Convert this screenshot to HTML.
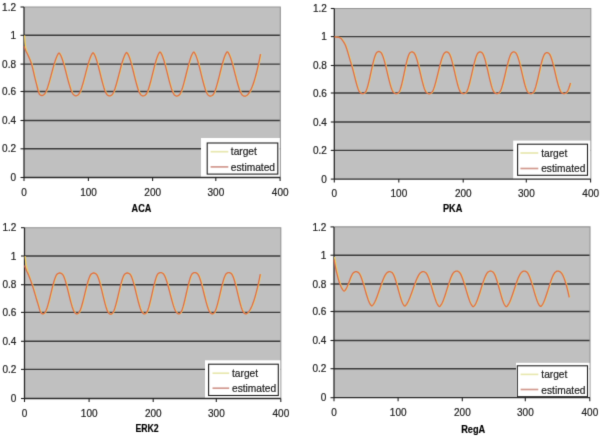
<!DOCTYPE html><html><head><meta charset="utf-8"><style>html,body{margin:0;padding:0;background:#fff;}svg{display:block;}text{font-family:"Liberation Sans",sans-serif;stroke:#222;stroke-width:0.2px;}</style></head><body>
<svg width="600" height="437" viewBox="0 0 600 437">
<defs><filter id="bl" x="0" y="0" width="600" height="437" filterUnits="userSpaceOnUse" color-interpolation-filters="sRGB"><feConvolveMatrix order="3" kernelMatrix="0.0114 0.0841 0.0114 0.0841 0.618 0.0841 0.0114 0.0841 0.0114" divisor="1" edgeMode="duplicate"/></filter></defs>
<g filter="url(#bl)">
<rect width="600" height="437" fill="#fff"/>
<g><rect x="24.0" y="7.0" width="256.30" height="170.50" fill="#C0C0C0"/><line x1="24.0" y1="148.80" x2="280.3" y2="148.80" stroke="#3a3a3a" stroke-width="1.4"/><line x1="24.0" y1="120.50" x2="280.3" y2="120.50" stroke="#3a3a3a" stroke-width="1.4"/><line x1="24.0" y1="91.50" x2="280.3" y2="91.50" stroke="#3a3a3a" stroke-width="1.4"/><line x1="24.0" y1="64.10" x2="280.3" y2="64.10" stroke="#3a3a3a" stroke-width="1.4"/><line x1="24.0" y1="35.30" x2="280.3" y2="35.30" stroke="#3a3a3a" stroke-width="1.4"/><polyline points="24.0,7.0 280.3,7.0 280.3,177.5" fill="none" stroke="#959595" stroke-width="1.1"/><rect x="201" y="138" width="78.80" height="39.50" fill="#fff"/><rect x="207.2" y="143" width="70.60" height="31.10" fill="#fff" stroke="#222" stroke-width="1.1"/><line x1="210.6" y1="151.7" x2="228.3" y2="151.7" stroke="#E8E8B0" stroke-width="1.7"/><line x1="210.6" y1="166.9" x2="228.3" y2="166.9" stroke="#D29A90" stroke-width="1.7"/><text x="230.8" y="154.7" font-size="10.2" fill="#222">target</text><text x="230.8" y="170.5" font-size="10.2" fill="#222">estimated</text><line x1="24.0" y1="7.0" x2="24.0" y2="177.5" stroke="#2a2a2a" stroke-width="1.3"/><line x1="24.0" y1="177.5" x2="280.3" y2="177.5" stroke="#2a2a2a" stroke-width="1.3"/><line x1="20.50" y1="177.50" x2="24.0" y2="177.50" stroke="#222" stroke-width="1.1"/><text x="16.0" y="181.10" font-size="10" text-anchor="end" fill="#222">0</text><line x1="20.50" y1="148.80" x2="24.0" y2="148.80" stroke="#222" stroke-width="1.1"/><text x="16.0" y="152.40" font-size="10" text-anchor="end" fill="#222">0.2</text><line x1="20.50" y1="120.50" x2="24.0" y2="120.50" stroke="#222" stroke-width="1.1"/><text x="16.0" y="124.10" font-size="10" text-anchor="end" fill="#222">0.4</text><line x1="20.50" y1="91.50" x2="24.0" y2="91.50" stroke="#222" stroke-width="1.1"/><text x="16.0" y="95.10" font-size="10" text-anchor="end" fill="#222">0.6</text><line x1="20.50" y1="64.10" x2="24.0" y2="64.10" stroke="#222" stroke-width="1.1"/><text x="16.0" y="67.70" font-size="10" text-anchor="end" fill="#222">0.8</text><line x1="20.50" y1="35.30" x2="24.0" y2="35.30" stroke="#222" stroke-width="1.1"/><text x="16.0" y="38.90" font-size="10" text-anchor="end" fill="#222">1</text><line x1="20.50" y1="7.00" x2="24.0" y2="7.00" stroke="#222" stroke-width="1.1"/><text x="16.0" y="10.60" font-size="10" text-anchor="end" fill="#222">1.2</text><line x1="24.00" y1="177.5" x2="24.00" y2="181.00" stroke="#222" stroke-width="1.1"/><text x="24.10" y="196.10" font-size="10" text-anchor="middle" fill="#222">0</text><line x1="88.40" y1="177.5" x2="88.40" y2="181.00" stroke="#222" stroke-width="1.1"/><text x="88.50" y="196.10" font-size="10" text-anchor="middle" fill="#222">100</text><line x1="152.60" y1="177.5" x2="152.60" y2="181.00" stroke="#222" stroke-width="1.1"/><text x="152.70" y="196.10" font-size="10" text-anchor="middle" fill="#222">200</text><line x1="215.80" y1="177.5" x2="215.80" y2="181.00" stroke="#222" stroke-width="1.1"/><text x="215.90" y="196.10" font-size="10" text-anchor="middle" fill="#222">300</text><line x1="280.10" y1="177.5" x2="280.10" y2="181.00" stroke="#222" stroke-width="1.1"/><text x="280.20" y="196.10" font-size="10" text-anchor="middle" fill="#222">400</text><text x="131.60" y="211.50" font-size="10.6" font-weight="bold" textLength="19.70" lengthAdjust="spacingAndGlyphs" fill="#000">ACA</text><polyline points="24.00,35.42 24.50,42.35 25.00,46.61 25.50,48.85 26.00,50.50 26.50,51.82 27.00,53.07 27.50,54.41 28.00,55.65 28.50,56.78 29.00,57.86 29.50,58.92 30.00,60.03 30.50,61.22 31.00,62.55 31.50,64.06 32.00,65.79 32.50,67.71 33.00,69.77 33.50,71.91 34.00,74.10 34.50,76.28 35.00,78.40 35.50,80.43 36.00,82.30 36.50,84.20 37.00,86.23 37.50,88.27 38.00,90.23 38.50,91.97 39.00,93.38 39.50,94.35 40.00,94.80 40.50,95.11 41.00,95.35 41.50,95.49 42.00,95.51 42.50,95.38 43.00,95.15 43.50,94.85 44.00,94.52 44.50,94.03 45.00,93.36 45.50,92.51 46.00,91.50 46.50,90.35 47.00,89.06 47.50,87.66 48.00,86.15 48.50,84.55 49.00,82.86 49.50,81.12 50.00,79.31 50.50,77.47 51.00,75.61 51.50,73.73 52.00,71.85 52.50,69.98 53.00,68.15 53.50,66.35 54.00,64.60 54.50,62.93 55.00,61.33 55.50,59.83 56.00,58.43 56.50,57.15 57.00,56.01 57.50,55.01 58.00,54.17 58.50,53.46 59.00,53.03 59.50,53.46 60.00,54.18 60.50,55.03 61.00,56.05 61.50,57.22 62.00,58.54 62.50,59.99 63.00,61.54 63.50,63.20 64.00,64.94 64.50,66.74 65.00,68.60 65.50,70.51 66.00,72.43 66.50,74.37 67.00,76.31 67.50,78.23 68.00,80.12 68.50,81.96 69.00,83.74 69.50,85.44 70.00,87.05 70.50,88.56 71.00,89.96 71.50,91.21 72.00,92.33 72.50,93.28 73.00,94.05 73.50,94.63 74.00,95.01 74.50,95.32 75.00,95.58 75.50,95.75 76.00,95.80 76.50,95.70 77.00,95.48 77.50,95.20 78.00,94.88 78.50,94.43 79.00,93.77 79.50,92.94 80.00,91.94 80.50,90.79 81.00,89.49 81.50,88.07 82.00,86.54 82.50,84.92 83.00,83.20 83.50,81.42 84.00,79.58 84.50,77.70 85.00,75.80 85.50,73.87 86.00,71.95 86.50,70.04 87.00,68.16 87.50,66.32 88.00,64.53 88.50,62.81 89.00,61.18 89.50,59.64 90.00,58.22 90.50,56.91 91.00,55.75 91.50,54.74 92.00,53.89 92.50,53.17 93.00,52.75 93.50,53.17 94.00,53.90 94.50,54.77 95.00,55.82 95.50,57.05 96.00,58.42 96.50,59.94 97.00,61.57 97.50,63.31 98.00,65.14 98.50,67.03 99.00,68.99 99.50,70.98 100.00,73.00 100.50,75.03 101.00,77.04 101.50,79.03 102.00,80.98 102.50,82.88 103.00,84.70 103.50,86.43 104.00,88.05 104.50,89.55 105.00,90.91 105.50,92.12 106.00,93.16 106.50,94.01 107.00,94.66 107.50,95.09 108.00,95.40 108.50,95.68 109.00,95.87 109.50,95.94 110.00,95.87 110.50,95.67 111.00,95.40 111.50,95.09 112.00,94.67 112.50,94.05 113.00,93.25 113.50,92.27 114.00,91.14 114.50,89.86 115.00,88.45 115.50,86.92 116.00,85.29 116.50,83.58 117.00,81.79 117.50,79.94 118.00,78.04 118.50,76.12 119.00,74.18 119.50,72.23 120.00,70.29 120.50,68.38 121.00,66.51 121.50,64.70 122.00,62.95 122.50,61.28 123.00,59.70 123.50,58.24 124.00,56.90 124.50,55.70 125.00,54.65 125.50,53.76 126.00,53.03 126.50,52.49 127.00,52.75 127.50,53.46 128.00,54.29 128.50,55.31 129.00,56.50 129.50,57.84 130.00,59.32 130.50,60.93 131.00,62.64 131.50,64.45 132.00,66.33 132.50,68.27 133.00,70.25 133.50,72.26 134.00,74.29 134.50,76.31 135.00,78.31 135.50,80.27 136.00,82.18 136.50,84.03 137.00,85.79 137.50,87.45 138.00,88.99 138.50,90.41 139.00,91.67 139.50,92.78 140.00,93.70 140.50,94.43 141.00,94.95 141.50,95.28 142.00,95.57 142.50,95.80 143.00,95.93 143.50,95.92 144.00,95.76 144.50,95.52 145.00,95.22 145.50,94.86 146.00,94.31 146.50,93.55 147.00,92.60 147.50,91.47 148.00,90.19 148.50,88.77 149.00,87.22 149.50,85.56 150.00,83.80 150.50,81.96 151.00,80.05 151.50,78.10 152.00,76.11 152.50,74.10 153.00,72.08 153.50,70.08 154.00,68.10 154.50,66.17 155.00,64.29 155.50,62.49 156.00,60.77 156.50,59.16 157.00,57.66 157.50,56.30 158.00,55.09 158.50,54.05 159.00,53.18 159.50,52.46 160.00,52.04 160.50,52.46 161.00,53.18 161.50,54.05 162.00,55.10 162.50,56.31 163.00,57.67 163.50,59.17 164.00,60.79 164.50,62.51 165.00,64.32 165.50,66.21 166.00,68.15 166.50,70.13 167.00,72.14 167.50,74.16 168.00,76.18 168.50,78.18 169.00,80.14 169.50,82.06 170.00,83.90 170.50,85.67 171.00,87.34 171.50,88.89 172.00,90.32 172.50,91.61 173.00,92.73 173.50,93.68 174.00,94.45 174.50,95.00 175.00,95.36 175.50,95.66 176.00,95.91 176.50,96.06 177.00,96.07 177.50,95.95 178.00,95.71 178.50,95.42 179.00,95.09 179.50,94.58 180.00,93.86 180.50,92.96 181.00,91.88 181.50,90.64 182.00,89.25 182.50,87.74 183.00,86.11 183.50,84.38 184.00,82.57 184.50,80.69 185.00,78.76 185.50,76.78 186.00,74.78 186.50,72.78 187.00,70.78 187.50,68.80 188.00,66.86 188.50,64.96 189.00,63.14 189.50,61.40 190.00,59.75 190.50,58.22 191.00,56.81 191.50,55.55 192.00,54.44 192.50,53.51 193.00,52.75 193.50,52.12 194.00,52.21 194.50,52.89 195.00,53.68 195.50,54.67 196.00,55.82 196.50,57.14 197.00,58.60 197.50,60.19 198.00,61.89 198.50,63.68 199.00,65.56 199.50,67.49 200.00,69.48 200.50,71.50 201.00,73.54 201.50,75.57 202.00,77.59 202.50,79.59 203.00,81.53 203.50,83.41 204.00,85.21 204.50,86.92 205.00,88.52 205.50,89.99 206.00,91.32 206.50,92.50 207.00,93.49 207.50,94.30 208.00,94.91 208.50,95.30 209.00,95.60 209.50,95.86 210.00,96.04 210.50,96.08 211.00,95.98 211.50,95.77 212.00,95.48 212.50,95.17 213.00,94.70 213.50,94.02 214.00,93.14 214.50,92.09 215.00,90.87 215.50,89.51 216.00,88.01 216.50,86.39 217.00,84.67 217.50,82.86 218.00,80.97 218.50,79.03 219.00,77.05 219.50,75.04 220.00,73.02 220.50,71.00 221.00,69.01 221.50,67.04 222.00,65.12 222.50,63.27 223.00,61.50 223.50,59.83 224.00,58.26 224.50,56.82 225.00,55.52 225.50,54.37 226.00,53.40 226.50,52.61 227.00,51.93 227.50,51.84 228.00,52.47 228.50,53.22 229.00,54.13 229.50,55.21 230.00,56.43 230.50,57.79 231.00,59.27 231.50,60.85 232.00,62.53 232.50,64.29 233.00,66.11 233.50,67.99 234.00,69.90 234.50,71.84 235.00,73.79 235.50,75.74 236.00,77.68 236.50,79.58 237.00,81.44 237.50,83.25 238.00,84.99 238.50,86.64 239.00,88.20 239.50,89.64 240.00,90.96 240.50,92.15 241.00,93.18 241.50,94.05 242.00,94.74 242.50,95.23 243.00,95.56 243.50,95.86 244.00,96.09 244.50,96.22 245.00,96.20 245.50,96.05 246.00,95.80 246.50,95.50 247.00,95.17 247.50,94.76 248.00,94.26 248.50,93.67 249.00,92.99 249.50,92.22 250.00,91.37 250.50,90.43 251.00,89.40 251.50,88.29 252.00,87.09 252.50,85.81 253.00,84.45 253.50,83.00 254.00,81.46 254.50,79.85 255.00,78.15 255.50,76.37 256.00,74.51 256.50,72.57 257.00,70.54 257.50,68.44 258.00,66.26 258.50,64.00 259.00,61.66 259.50,59.24 260.00,56.74 260.50,54.17" fill="none" stroke="#F4D060" stroke-width="1.3" stroke-linejoin="round" transform="translate(0.6,0)"/><polyline points="24.00,46.07 24.50,47.68 25.00,49.12 25.50,50.31 26.00,51.31 26.50,52.23 27.00,53.19 27.50,54.25 28.00,55.31 28.50,56.39 29.00,57.50 29.50,58.65 30.00,59.87 30.50,61.16 31.00,62.54 31.50,64.06 32.00,65.79 32.50,67.71 33.00,69.77 33.50,71.91 34.00,74.10 34.50,76.28 35.00,78.40 35.50,80.43 36.00,82.30 36.50,84.20 37.00,86.23 37.50,88.27 38.00,90.23 38.50,91.97 39.00,93.38 39.50,94.35 40.00,94.80 40.50,95.11 41.00,95.35 41.50,95.49 42.00,95.51 42.50,95.38 43.00,95.15 43.50,94.85 44.00,94.52 44.50,94.03 45.00,93.36 45.50,92.51 46.00,91.50 46.50,90.35 47.00,89.06 47.50,87.66 48.00,86.15 48.50,84.55 49.00,82.86 49.50,81.12 50.00,79.31 50.50,77.47 51.00,75.61 51.50,73.73 52.00,71.85 52.50,69.98 53.00,68.15 53.50,66.35 54.00,64.60 54.50,62.93 55.00,61.33 55.50,59.83 56.00,58.43 56.50,57.15 57.00,56.01 57.50,55.01 58.00,54.17 58.50,53.46 59.00,53.03 59.50,53.46 60.00,54.18 60.50,55.03 61.00,56.05 61.50,57.22 62.00,58.54 62.50,59.99 63.00,61.54 63.50,63.20 64.00,64.94 64.50,66.74 65.00,68.60 65.50,70.51 66.00,72.43 66.50,74.37 67.00,76.31 67.50,78.23 68.00,80.12 68.50,81.96 69.00,83.74 69.50,85.44 70.00,87.05 70.50,88.56 71.00,89.96 71.50,91.21 72.00,92.33 72.50,93.28 73.00,94.05 73.50,94.63 74.00,95.01 74.50,95.32 75.00,95.58 75.50,95.75 76.00,95.80 76.50,95.70 77.00,95.48 77.50,95.20 78.00,94.88 78.50,94.43 79.00,93.77 79.50,92.94 80.00,91.94 80.50,90.79 81.00,89.49 81.50,88.07 82.00,86.54 82.50,84.92 83.00,83.20 83.50,81.42 84.00,79.58 84.50,77.70 85.00,75.80 85.50,73.87 86.00,71.95 86.50,70.04 87.00,68.16 87.50,66.32 88.00,64.53 88.50,62.81 89.00,61.18 89.50,59.64 90.00,58.22 90.50,56.91 91.00,55.75 91.50,54.74 92.00,53.89 92.50,53.17 93.00,52.75 93.50,53.17 94.00,53.90 94.50,54.77 95.00,55.82 95.50,57.05 96.00,58.42 96.50,59.94 97.00,61.57 97.50,63.31 98.00,65.14 98.50,67.03 99.00,68.99 99.50,70.98 100.00,73.00 100.50,75.03 101.00,77.04 101.50,79.03 102.00,80.98 102.50,82.88 103.00,84.70 103.50,86.43 104.00,88.05 104.50,89.55 105.00,90.91 105.50,92.12 106.00,93.16 106.50,94.01 107.00,94.66 107.50,95.09 108.00,95.40 108.50,95.68 109.00,95.87 109.50,95.94 110.00,95.87 110.50,95.67 111.00,95.40 111.50,95.09 112.00,94.67 112.50,94.05 113.00,93.25 113.50,92.27 114.00,91.14 114.50,89.86 115.00,88.45 115.50,86.92 116.00,85.29 116.50,83.58 117.00,81.79 117.50,79.94 118.00,78.04 118.50,76.12 119.00,74.18 119.50,72.23 120.00,70.29 120.50,68.38 121.00,66.51 121.50,64.70 122.00,62.95 122.50,61.28 123.00,59.70 123.50,58.24 124.00,56.90 124.50,55.70 125.00,54.65 125.50,53.76 126.00,53.03 126.50,52.49 127.00,52.75 127.50,53.46 128.00,54.29 128.50,55.31 129.00,56.50 129.50,57.84 130.00,59.32 130.50,60.93 131.00,62.64 131.50,64.45 132.00,66.33 132.50,68.27 133.00,70.25 133.50,72.26 134.00,74.29 134.50,76.31 135.00,78.31 135.50,80.27 136.00,82.18 136.50,84.03 137.00,85.79 137.50,87.45 138.00,88.99 138.50,90.41 139.00,91.67 139.50,92.78 140.00,93.70 140.50,94.43 141.00,94.95 141.50,95.28 142.00,95.57 142.50,95.80 143.00,95.93 143.50,95.92 144.00,95.76 144.50,95.52 145.00,95.22 145.50,94.86 146.00,94.31 146.50,93.55 147.00,92.60 147.50,91.47 148.00,90.19 148.50,88.77 149.00,87.22 149.50,85.56 150.00,83.80 150.50,81.96 151.00,80.05 151.50,78.10 152.00,76.11 152.50,74.10 153.00,72.08 153.50,70.08 154.00,68.10 154.50,66.17 155.00,64.29 155.50,62.49 156.00,60.77 156.50,59.16 157.00,57.66 157.50,56.30 158.00,55.09 158.50,54.05 159.00,53.18 159.50,52.46 160.00,52.04 160.50,52.46 161.00,53.18 161.50,54.05 162.00,55.10 162.50,56.31 163.00,57.67 163.50,59.17 164.00,60.79 164.50,62.51 165.00,64.32 165.50,66.21 166.00,68.15 166.50,70.13 167.00,72.14 167.50,74.16 168.00,76.18 168.50,78.18 169.00,80.14 169.50,82.06 170.00,83.90 170.50,85.67 171.00,87.34 171.50,88.89 172.00,90.32 172.50,91.61 173.00,92.73 173.50,93.68 174.00,94.45 174.50,95.00 175.00,95.36 175.50,95.66 176.00,95.91 176.50,96.06 177.00,96.07 177.50,95.95 178.00,95.71 178.50,95.42 179.00,95.09 179.50,94.58 180.00,93.86 180.50,92.96 181.00,91.88 181.50,90.64 182.00,89.25 182.50,87.74 183.00,86.11 183.50,84.38 184.00,82.57 184.50,80.69 185.00,78.76 185.50,76.78 186.00,74.78 186.50,72.78 187.00,70.78 187.50,68.80 188.00,66.86 188.50,64.96 189.00,63.14 189.50,61.40 190.00,59.75 190.50,58.22 191.00,56.81 191.50,55.55 192.00,54.44 192.50,53.51 193.00,52.75 193.50,52.12 194.00,52.21 194.50,52.89 195.00,53.68 195.50,54.67 196.00,55.82 196.50,57.14 197.00,58.60 197.50,60.19 198.00,61.89 198.50,63.68 199.00,65.56 199.50,67.49 200.00,69.48 200.50,71.50 201.00,73.54 201.50,75.57 202.00,77.59 202.50,79.59 203.00,81.53 203.50,83.41 204.00,85.21 204.50,86.92 205.00,88.52 205.50,89.99 206.00,91.32 206.50,92.50 207.00,93.49 207.50,94.30 208.00,94.91 208.50,95.30 209.00,95.60 209.50,95.86 210.00,96.04 210.50,96.08 211.00,95.98 211.50,95.77 212.00,95.48 212.50,95.17 213.00,94.70 213.50,94.02 214.00,93.14 214.50,92.09 215.00,90.87 215.50,89.51 216.00,88.01 216.50,86.39 217.00,84.67 217.50,82.86 218.00,80.97 218.50,79.03 219.00,77.05 219.50,75.04 220.00,73.02 220.50,71.00 221.00,69.01 221.50,67.04 222.00,65.12 222.50,63.27 223.00,61.50 223.50,59.83 224.00,58.26 224.50,56.82 225.00,55.52 225.50,54.37 226.00,53.40 226.50,52.61 227.00,51.93 227.50,51.84 228.00,52.47 228.50,53.22 229.00,54.13 229.50,55.21 230.00,56.43 230.50,57.79 231.00,59.27 231.50,60.85 232.00,62.53 232.50,64.29 233.00,66.11 233.50,67.99 234.00,69.90 234.50,71.84 235.00,73.79 235.50,75.74 236.00,77.68 236.50,79.58 237.00,81.44 237.50,83.25 238.00,84.99 238.50,86.64 239.00,88.20 239.50,89.64 240.00,90.96 240.50,92.15 241.00,93.18 241.50,94.05 242.00,94.74 242.50,95.23 243.00,95.56 243.50,95.86 244.00,96.09 244.50,96.22 245.00,96.20 245.50,96.05 246.00,95.80 246.50,95.50 247.00,95.17 247.50,94.76 248.00,94.26 248.50,93.67 249.00,92.99 249.50,92.22 250.00,91.37 250.50,90.43 251.00,89.40 251.50,88.29 252.00,87.09 252.50,85.81 253.00,84.45 253.50,83.00 254.00,81.46 254.50,79.85 255.00,78.15 255.50,76.37 256.00,74.51 256.50,72.57 257.00,70.54 257.50,68.44 258.00,66.26 258.50,64.00 259.00,61.66 259.50,59.24 260.00,56.74 260.50,54.17" fill="none" stroke="#D8664A" stroke-width="1.3" stroke-linejoin="round" opacity="0.9"/></g>
<g><rect x="334.3" y="8.5" width="256.50" height="170.60" fill="#C0C0C0"/><line x1="334.3" y1="150.40" x2="590.8" y2="150.40" stroke="#3a3a3a" stroke-width="1.4"/><line x1="334.3" y1="122.00" x2="590.8" y2="122.00" stroke="#3a3a3a" stroke-width="1.4"/><line x1="334.3" y1="93.00" x2="590.8" y2="93.00" stroke="#3a3a3a" stroke-width="1.4"/><line x1="334.3" y1="65.50" x2="590.8" y2="65.50" stroke="#3a3a3a" stroke-width="1.4"/><line x1="334.3" y1="36.60" x2="590.8" y2="36.60" stroke="#3a3a3a" stroke-width="1.4"/><polyline points="334.3,8.5 590.8,8.5 590.8,179.1" fill="none" stroke="#959595" stroke-width="1.1"/><rect x="513.2" y="140.6" width="77.10" height="38.50" fill="#fff"/><rect x="517.6" y="144.2" width="69.90" height="31.10" fill="#fff" stroke="#222" stroke-width="1.1"/><line x1="520.4" y1="153.0" x2="538.3" y2="153.0" stroke="#E8E8B0" stroke-width="1.7"/><line x1="520.4" y1="168.5" x2="538.3" y2="168.5" stroke="#D29A90" stroke-width="1.7"/><text x="541.2" y="156.9" font-size="10.2" fill="#222">target</text><text x="541.2" y="172.4" font-size="10.2" fill="#222">estimated</text><line x1="334.3" y1="8.5" x2="334.3" y2="179.1" stroke="#2a2a2a" stroke-width="1.3"/><line x1="334.3" y1="179.1" x2="590.8" y2="179.1" stroke="#2a2a2a" stroke-width="1.3"/><line x1="330.80" y1="179.10" x2="334.3" y2="179.10" stroke="#222" stroke-width="1.1"/><text x="326.8" y="182.70" font-size="10" text-anchor="end" fill="#222">0</text><line x1="330.80" y1="150.40" x2="334.3" y2="150.40" stroke="#222" stroke-width="1.1"/><text x="326.8" y="154.00" font-size="10" text-anchor="end" fill="#222">0.2</text><line x1="330.80" y1="122.00" x2="334.3" y2="122.00" stroke="#222" stroke-width="1.1"/><text x="326.8" y="125.60" font-size="10" text-anchor="end" fill="#222">0.4</text><line x1="330.80" y1="93.00" x2="334.3" y2="93.00" stroke="#222" stroke-width="1.1"/><text x="326.8" y="96.60" font-size="10" text-anchor="end" fill="#222">0.6</text><line x1="330.80" y1="65.50" x2="334.3" y2="65.50" stroke="#222" stroke-width="1.1"/><text x="326.8" y="69.10" font-size="10" text-anchor="end" fill="#222">0.8</text><line x1="330.80" y1="36.60" x2="334.3" y2="36.60" stroke="#222" stroke-width="1.1"/><text x="326.8" y="40.20" font-size="10" text-anchor="end" fill="#222">1</text><line x1="330.80" y1="8.50" x2="334.3" y2="8.50" stroke="#222" stroke-width="1.1"/><text x="326.8" y="12.10" font-size="10" text-anchor="end" fill="#222">1.2</text><line x1="334.30" y1="179.1" x2="334.30" y2="182.60" stroke="#222" stroke-width="1.1"/><text x="334.40" y="197.20" font-size="10" text-anchor="middle" fill="#222">0</text><line x1="398.80" y1="179.1" x2="398.80" y2="182.60" stroke="#222" stroke-width="1.1"/><text x="398.90" y="197.20" font-size="10" text-anchor="middle" fill="#222">100</text><line x1="463.20" y1="179.1" x2="463.20" y2="182.60" stroke="#222" stroke-width="1.1"/><text x="463.30" y="197.20" font-size="10" text-anchor="middle" fill="#222">200</text><line x1="526.30" y1="179.1" x2="526.30" y2="182.60" stroke="#222" stroke-width="1.1"/><text x="526.40" y="197.20" font-size="10" text-anchor="middle" fill="#222">300</text><line x1="590.60" y1="179.1" x2="590.60" y2="182.60" stroke="#222" stroke-width="1.1"/><text x="590.70" y="197.20" font-size="10" text-anchor="middle" fill="#222">400</text><text x="442.90" y="212.00" font-size="10.6" font-weight="bold" textLength="19.40" lengthAdjust="spacingAndGlyphs" fill="#000">PKA</text><polyline points="334.30,36.93 334.80,36.94 335.30,36.96 335.80,37.00 336.30,37.05 336.80,37.11 337.30,37.18 337.80,37.26 338.30,37.36 338.80,37.46 339.30,37.57 339.80,37.70 340.30,37.95 340.80,38.32 341.30,38.81 341.80,39.38 342.30,40.04 342.80,40.76 343.30,41.53 343.80,42.34 344.30,43.16 344.80,44.05 345.30,45.12 345.80,46.33 346.30,47.69 346.80,49.16 347.30,50.73 347.80,52.37 348.30,54.08 348.80,55.82 349.30,57.58 349.80,59.34 350.30,61.08 350.80,62.78 351.30,64.42 351.80,66.00 352.30,67.68 352.80,69.47 353.30,71.36 353.80,73.31 354.30,75.30 354.80,77.30 355.30,79.29 355.80,81.24 356.30,83.13 356.80,84.92 357.30,86.60 357.80,88.14 358.30,89.51 358.80,90.69 359.30,91.65 359.80,92.36 360.30,92.80 360.80,93.10 361.30,93.35 361.80,93.54 362.30,93.65 362.80,93.64 363.30,93.51 363.80,93.30 364.30,93.04 364.80,92.74 365.30,92.23 365.80,91.42 366.30,90.34 366.80,89.03 367.30,87.49 367.80,85.77 368.30,83.89 368.80,81.87 369.30,79.74 369.80,77.52 370.30,75.25 370.80,72.95 371.30,70.64 371.80,68.36 372.30,66.12 372.80,63.95 373.30,61.89 373.80,59.95 374.30,58.17 374.80,56.56 375.30,55.16 375.80,53.99 376.30,53.08 376.80,52.45 377.30,52.08 377.80,51.76 378.30,51.53 378.80,51.43 379.30,51.53 379.80,51.76 380.30,52.08 380.80,52.45 381.30,53.03 381.80,53.85 382.30,54.89 382.80,56.13 383.30,57.55 383.80,59.13 384.30,60.85 384.80,62.69 385.30,64.63 385.80,66.64 386.30,68.71 386.80,70.82 387.30,72.94 387.80,75.06 388.30,77.16 388.80,79.21 389.30,81.19 389.80,83.09 390.30,84.89 390.80,86.55 391.30,88.07 391.80,89.42 392.30,90.59 392.80,91.54 393.30,92.27 393.80,92.74 394.30,93.03 394.80,93.30 395.30,93.51 395.80,93.64 396.30,93.65 396.80,93.54 397.30,93.35 397.80,93.09 398.30,92.80 398.80,92.34 399.30,91.55 399.80,90.47 400.30,89.13 400.80,87.55 401.30,85.76 401.80,83.81 402.30,81.71 402.80,79.49 403.30,77.19 403.80,74.83 404.30,72.45 404.80,70.07 405.30,67.72 405.80,65.44 406.30,63.25 406.80,61.18 407.30,59.26 407.80,57.52 408.30,56.00 408.80,54.71 409.30,53.70 409.80,52.99 410.30,52.57 410.80,52.24 411.30,51.99 411.80,51.86 412.30,51.92 412.80,52.13 413.30,52.44 413.80,52.79 414.30,53.32 414.80,54.11 415.30,55.12 415.80,56.35 416.30,57.76 416.80,59.33 417.30,61.05 417.80,62.90 418.30,64.84 418.80,66.87 419.30,68.96 419.80,71.08 420.30,73.23 420.80,75.37 421.30,77.48 421.80,79.54 422.30,81.54 422.80,83.45 423.30,85.25 423.80,86.91 424.30,88.43 424.80,89.76 425.30,90.91 425.80,91.83 426.30,92.52 426.80,92.95 427.30,93.23 427.80,93.49 428.30,93.68 428.80,93.79 429.30,93.78 429.80,93.65 430.30,93.44 430.80,93.18 431.30,92.88 431.80,92.42 432.30,91.72 432.80,90.80 433.30,89.69 433.80,88.39 434.30,86.94 434.80,85.34 435.30,83.62 435.80,81.80 436.30,79.89 436.80,77.91 437.30,75.89 437.80,73.84 438.30,71.78 438.80,69.73 439.30,67.71 439.80,65.74 440.30,63.83 440.80,62.00 441.30,60.28 441.80,58.68 442.30,57.22 442.80,55.93 443.30,54.81 443.80,53.89 444.30,53.18 444.80,52.71 445.30,52.37 445.80,52.08 446.30,51.90 446.80,51.88 447.30,52.03 447.80,52.31 448.30,52.64 448.80,53.08 449.30,53.79 449.80,54.74 450.30,55.92 450.80,57.30 451.30,58.86 451.80,60.58 452.30,62.44 452.80,64.41 453.30,66.46 453.80,68.59 454.30,70.75 454.80,72.94 455.30,75.12 455.80,77.28 456.30,79.39 456.80,81.43 457.30,83.38 457.80,85.21 458.30,86.91 458.80,88.44 459.30,89.78 459.80,90.92 460.30,91.83 460.80,92.48 461.30,92.86 461.80,93.15 462.30,93.39 462.80,93.57 463.30,93.66 463.80,93.62 464.30,93.47 464.80,93.25 465.30,92.98 465.80,92.66 466.30,92.11 466.80,91.30 467.30,90.23 467.80,88.95 468.30,87.48 468.80,85.83 469.30,84.03 469.80,82.10 470.30,80.07 470.80,77.96 471.30,75.80 471.80,73.60 472.30,71.39 472.80,69.20 473.30,67.04 473.80,64.95 474.30,62.94 474.80,61.04 475.30,59.27 475.80,57.65 476.30,56.22 476.80,54.98 477.30,53.97 477.80,53.21 478.30,52.71 478.80,52.37 479.30,52.08 479.80,51.90 480.30,51.88 480.80,52.03 481.30,52.31 481.80,52.64 482.30,53.08 482.80,53.79 483.30,54.76 483.80,55.95 484.30,57.35 484.80,58.93 485.30,60.67 485.80,62.55 486.30,64.54 486.80,66.62 487.30,68.76 487.80,70.95 488.30,73.16 488.80,75.36 489.30,77.53 489.80,79.65 490.30,81.70 490.80,83.65 491.30,85.48 491.80,87.16 492.30,88.67 492.80,90.00 493.30,91.10 493.80,91.97 494.30,92.58 494.80,92.92 495.30,93.20 495.80,93.43 496.30,93.60 496.80,93.66 497.30,93.60 497.80,93.43 498.30,93.20 498.80,92.92 499.30,92.58 499.80,91.98 500.30,91.13 500.80,90.05 501.30,88.77 501.80,87.29 502.30,85.65 502.80,83.86 503.30,81.96 503.80,79.96 504.30,77.88 504.80,75.75 505.30,73.59 505.80,71.42 506.30,69.26 506.80,67.14 507.30,65.08 507.80,63.10 508.30,61.21 508.80,59.46 509.30,57.85 509.80,56.41 510.30,55.16 510.80,54.13 511.30,53.33 511.80,52.79 512.30,52.44 512.80,52.13 513.30,51.92 513.80,51.86 514.30,51.99 514.80,52.25 515.30,52.57 515.80,52.97 516.30,53.62 516.80,54.51 517.30,55.64 517.80,56.96 518.30,58.47 518.80,60.14 519.30,61.95 519.80,63.88 520.30,65.90 520.80,67.98 521.30,70.12 521.80,72.29 522.30,74.46 522.80,76.61 523.30,78.72 523.80,80.77 524.30,82.74 524.80,84.59 525.30,86.32 525.80,87.90 526.30,89.30 526.80,90.51 527.30,91.50 527.80,92.25 528.30,92.74 528.80,93.04 529.30,93.30 529.80,93.51 530.30,93.64 530.80,93.65 531.30,93.54 531.80,93.35 532.30,93.09 532.80,92.80 533.30,92.36 533.80,91.64 534.30,90.65 534.80,89.43 535.30,88.00 535.80,86.38 536.30,84.60 536.80,82.69 537.30,80.67 537.80,78.56 538.30,76.39 538.80,74.18 539.30,71.96 539.80,69.75 540.30,67.58 540.80,65.47 541.30,63.45 541.80,61.53 542.30,59.76 542.80,58.15 543.30,56.72 543.80,55.50 544.30,54.52 544.80,53.80 545.30,53.35 545.80,53.02 546.30,52.74 546.80,52.59 547.30,52.61 547.80,52.79 548.30,53.08 548.80,53.42 549.30,53.91 549.80,54.65 550.30,55.62 550.80,56.81 551.30,58.19 551.80,59.74 552.30,61.43 552.80,63.26 553.30,65.19 553.80,67.20 554.30,69.27 554.80,71.38 555.30,73.51 555.80,75.63 556.30,77.73 556.80,79.78 557.30,81.76 557.80,83.65 558.30,85.42 558.80,87.07 559.30,88.55 559.80,89.86 560.30,90.96 560.80,91.84 561.30,92.48 561.80,92.86 562.30,93.15 562.80,93.39 563.30,93.57 563.80,93.66 564.30,93.62 564.80,93.48 565.30,93.26 565.80,92.99 566.30,92.66 566.80,92.16 567.30,91.45 567.80,90.54 568.30,89.46 568.80,88.22 569.30,86.83 569.80,85.32 570.30,83.68 570.50,83.00" fill="none" stroke="#F4D060" stroke-width="1.3" stroke-linejoin="round" transform="translate(0.6,0)"/><polyline points="334.30,36.93 334.80,36.94 335.30,36.96 335.80,37.00 336.30,37.05 336.80,37.11 337.30,37.18 337.80,37.26 338.30,37.36 338.80,37.46 339.30,37.57 339.80,37.70 340.30,37.95 340.80,38.32 341.30,38.81 341.80,39.38 342.30,40.04 342.80,40.76 343.30,41.53 343.80,42.34 344.30,43.16 344.80,44.05 345.30,45.12 345.80,46.33 346.30,47.69 346.80,49.16 347.30,50.73 347.80,52.37 348.30,54.08 348.80,55.82 349.30,57.58 349.80,59.34 350.30,61.08 350.80,62.78 351.30,64.42 351.80,66.00 352.30,67.68 352.80,69.47 353.30,71.36 353.80,73.31 354.30,75.30 354.80,77.30 355.30,79.29 355.80,81.24 356.30,83.13 356.80,84.92 357.30,86.60 357.80,88.14 358.30,89.51 358.80,90.69 359.30,91.65 359.80,92.36 360.30,92.80 360.80,93.10 361.30,93.35 361.80,93.54 362.30,93.65 362.80,93.64 363.30,93.51 363.80,93.30 364.30,93.04 364.80,92.74 365.30,92.23 365.80,91.42 366.30,90.34 366.80,89.03 367.30,87.49 367.80,85.77 368.30,83.89 368.80,81.87 369.30,79.74 369.80,77.52 370.30,75.25 370.80,72.95 371.30,70.64 371.80,68.36 372.30,66.12 372.80,63.95 373.30,61.89 373.80,59.95 374.30,58.17 374.80,56.56 375.30,55.16 375.80,53.99 376.30,53.08 376.80,52.45 377.30,52.08 377.80,51.76 378.30,51.53 378.80,51.43 379.30,51.53 379.80,51.76 380.30,52.08 380.80,52.45 381.30,53.03 381.80,53.85 382.30,54.89 382.80,56.13 383.30,57.55 383.80,59.13 384.30,60.85 384.80,62.69 385.30,64.63 385.80,66.64 386.30,68.71 386.80,70.82 387.30,72.94 387.80,75.06 388.30,77.16 388.80,79.21 389.30,81.19 389.80,83.09 390.30,84.89 390.80,86.55 391.30,88.07 391.80,89.42 392.30,90.59 392.80,91.54 393.30,92.27 393.80,92.74 394.30,93.03 394.80,93.30 395.30,93.51 395.80,93.64 396.30,93.65 396.80,93.54 397.30,93.35 397.80,93.09 398.30,92.80 398.80,92.34 399.30,91.55 399.80,90.47 400.30,89.13 400.80,87.55 401.30,85.76 401.80,83.81 402.30,81.71 402.80,79.49 403.30,77.19 403.80,74.83 404.30,72.45 404.80,70.07 405.30,67.72 405.80,65.44 406.30,63.25 406.80,61.18 407.30,59.26 407.80,57.52 408.30,56.00 408.80,54.71 409.30,53.70 409.80,52.99 410.30,52.57 410.80,52.24 411.30,51.99 411.80,51.86 412.30,51.92 412.80,52.13 413.30,52.44 413.80,52.79 414.30,53.32 414.80,54.11 415.30,55.12 415.80,56.35 416.30,57.76 416.80,59.33 417.30,61.05 417.80,62.90 418.30,64.84 418.80,66.87 419.30,68.96 419.80,71.08 420.30,73.23 420.80,75.37 421.30,77.48 421.80,79.54 422.30,81.54 422.80,83.45 423.30,85.25 423.80,86.91 424.30,88.43 424.80,89.76 425.30,90.91 425.80,91.83 426.30,92.52 426.80,92.95 427.30,93.23 427.80,93.49 428.30,93.68 428.80,93.79 429.30,93.78 429.80,93.65 430.30,93.44 430.80,93.18 431.30,92.88 431.80,92.42 432.30,91.72 432.80,90.80 433.30,89.69 433.80,88.39 434.30,86.94 434.80,85.34 435.30,83.62 435.80,81.80 436.30,79.89 436.80,77.91 437.30,75.89 437.80,73.84 438.30,71.78 438.80,69.73 439.30,67.71 439.80,65.74 440.30,63.83 440.80,62.00 441.30,60.28 441.80,58.68 442.30,57.22 442.80,55.93 443.30,54.81 443.80,53.89 444.30,53.18 444.80,52.71 445.30,52.37 445.80,52.08 446.30,51.90 446.80,51.88 447.30,52.03 447.80,52.31 448.30,52.64 448.80,53.08 449.30,53.79 449.80,54.74 450.30,55.92 450.80,57.30 451.30,58.86 451.80,60.58 452.30,62.44 452.80,64.41 453.30,66.46 453.80,68.59 454.30,70.75 454.80,72.94 455.30,75.12 455.80,77.28 456.30,79.39 456.80,81.43 457.30,83.38 457.80,85.21 458.30,86.91 458.80,88.44 459.30,89.78 459.80,90.92 460.30,91.83 460.80,92.48 461.30,92.86 461.80,93.15 462.30,93.39 462.80,93.57 463.30,93.66 463.80,93.62 464.30,93.47 464.80,93.25 465.30,92.98 465.80,92.66 466.30,92.11 466.80,91.30 467.30,90.23 467.80,88.95 468.30,87.48 468.80,85.83 469.30,84.03 469.80,82.10 470.30,80.07 470.80,77.96 471.30,75.80 471.80,73.60 472.30,71.39 472.80,69.20 473.30,67.04 473.80,64.95 474.30,62.94 474.80,61.04 475.30,59.27 475.80,57.65 476.30,56.22 476.80,54.98 477.30,53.97 477.80,53.21 478.30,52.71 478.80,52.37 479.30,52.08 479.80,51.90 480.30,51.88 480.80,52.03 481.30,52.31 481.80,52.64 482.30,53.08 482.80,53.79 483.30,54.76 483.80,55.95 484.30,57.35 484.80,58.93 485.30,60.67 485.80,62.55 486.30,64.54 486.80,66.62 487.30,68.76 487.80,70.95 488.30,73.16 488.80,75.36 489.30,77.53 489.80,79.65 490.30,81.70 490.80,83.65 491.30,85.48 491.80,87.16 492.30,88.67 492.80,90.00 493.30,91.10 493.80,91.97 494.30,92.58 494.80,92.92 495.30,93.20 495.80,93.43 496.30,93.60 496.80,93.66 497.30,93.60 497.80,93.43 498.30,93.20 498.80,92.92 499.30,92.58 499.80,91.98 500.30,91.13 500.80,90.05 501.30,88.77 501.80,87.29 502.30,85.65 502.80,83.86 503.30,81.96 503.80,79.96 504.30,77.88 504.80,75.75 505.30,73.59 505.80,71.42 506.30,69.26 506.80,67.14 507.30,65.08 507.80,63.10 508.30,61.21 508.80,59.46 509.30,57.85 509.80,56.41 510.30,55.16 510.80,54.13 511.30,53.33 511.80,52.79 512.30,52.44 512.80,52.13 513.30,51.92 513.80,51.86 514.30,51.99 514.80,52.25 515.30,52.57 515.80,52.97 516.30,53.62 516.80,54.51 517.30,55.64 517.80,56.96 518.30,58.47 518.80,60.14 519.30,61.95 519.80,63.88 520.30,65.90 520.80,67.98 521.30,70.12 521.80,72.29 522.30,74.46 522.80,76.61 523.30,78.72 523.80,80.77 524.30,82.74 524.80,84.59 525.30,86.32 525.80,87.90 526.30,89.30 526.80,90.51 527.30,91.50 527.80,92.25 528.30,92.74 528.80,93.04 529.30,93.30 529.80,93.51 530.30,93.64 530.80,93.65 531.30,93.54 531.80,93.35 532.30,93.09 532.80,92.80 533.30,92.36 533.80,91.64 534.30,90.65 534.80,89.43 535.30,88.00 535.80,86.38 536.30,84.60 536.80,82.69 537.30,80.67 537.80,78.56 538.30,76.39 538.80,74.18 539.30,71.96 539.80,69.75 540.30,67.58 540.80,65.47 541.30,63.45 541.80,61.53 542.30,59.76 542.80,58.15 543.30,56.72 543.80,55.50 544.30,54.52 544.80,53.80 545.30,53.35 545.80,53.02 546.30,52.74 546.80,52.59 547.30,52.61 547.80,52.79 548.30,53.08 548.80,53.42 549.30,53.91 549.80,54.65 550.30,55.62 550.80,56.81 551.30,58.19 551.80,59.74 552.30,61.43 552.80,63.26 553.30,65.19 553.80,67.20 554.30,69.27 554.80,71.38 555.30,73.51 555.80,75.63 556.30,77.73 556.80,79.78 557.30,81.76 557.80,83.65 558.30,85.42 558.80,87.07 559.30,88.55 559.80,89.86 560.30,90.96 560.80,91.84 561.30,92.48 561.80,92.86 562.30,93.15 562.80,93.39 563.30,93.57 563.80,93.66 564.30,93.62 564.80,93.48 565.30,93.26 565.80,92.99 566.30,92.66 566.80,92.16 567.30,91.45 567.80,90.54 568.30,89.46 568.80,88.22 569.30,86.83 569.80,85.32 570.30,83.68 570.50,83.00" fill="none" stroke="#D8664A" stroke-width="1.3" stroke-linejoin="round" opacity="0.9"/></g>
<g><rect x="24.5" y="227.7" width="256.30" height="170.80" fill="#C0C0C0"/><line x1="24.5" y1="369.40" x2="280.8" y2="369.40" stroke="#3a3a3a" stroke-width="1.4"/><line x1="24.5" y1="341.30" x2="280.8" y2="341.30" stroke="#3a3a3a" stroke-width="1.4"/><line x1="24.5" y1="312.40" x2="280.8" y2="312.40" stroke="#3a3a3a" stroke-width="1.4"/><line x1="24.5" y1="284.70" x2="280.8" y2="284.70" stroke="#3a3a3a" stroke-width="1.4"/><line x1="24.5" y1="256.00" x2="280.8" y2="256.00" stroke="#3a3a3a" stroke-width="1.4"/><polyline points="24.5,227.7 280.8,227.7 280.8,398.5" fill="none" stroke="#959595" stroke-width="1.1"/><rect x="205" y="360.3" width="75.30" height="38.20" fill="#fff"/><rect x="208.6" y="364.2" width="69.70" height="31.30" fill="#fff" stroke="#222" stroke-width="1.1"/><line x1="212.5" y1="373.2" x2="229.2" y2="373.2" stroke="#E8E8B0" stroke-width="1.7"/><line x1="212.5" y1="388.2" x2="229.2" y2="388.2" stroke="#D29A90" stroke-width="1.7"/><text x="232" y="376.8" font-size="10.2" fill="#222">target</text><text x="232" y="392.0" font-size="10.2" fill="#222">estimated</text><line x1="24.5" y1="227.7" x2="24.5" y2="398.5" stroke="#2a2a2a" stroke-width="1.3"/><line x1="24.5" y1="398.5" x2="280.8" y2="398.5" stroke="#2a2a2a" stroke-width="1.3"/><line x1="21.00" y1="398.50" x2="24.5" y2="398.50" stroke="#222" stroke-width="1.1"/><text x="16.3" y="402.10" font-size="10" text-anchor="end" fill="#222">0</text><line x1="21.00" y1="369.40" x2="24.5" y2="369.40" stroke="#222" stroke-width="1.1"/><text x="16.3" y="373.00" font-size="10" text-anchor="end" fill="#222">0.2</text><line x1="21.00" y1="341.30" x2="24.5" y2="341.30" stroke="#222" stroke-width="1.1"/><text x="16.3" y="344.90" font-size="10" text-anchor="end" fill="#222">0.4</text><line x1="21.00" y1="312.40" x2="24.5" y2="312.40" stroke="#222" stroke-width="1.1"/><text x="16.3" y="316.00" font-size="10" text-anchor="end" fill="#222">0.6</text><line x1="21.00" y1="284.70" x2="24.5" y2="284.70" stroke="#222" stroke-width="1.1"/><text x="16.3" y="288.30" font-size="10" text-anchor="end" fill="#222">0.8</text><line x1="21.00" y1="256.00" x2="24.5" y2="256.00" stroke="#222" stroke-width="1.1"/><text x="16.3" y="259.60" font-size="10" text-anchor="end" fill="#222">1</text><line x1="21.00" y1="227.70" x2="24.5" y2="227.70" stroke="#222" stroke-width="1.1"/><text x="16.3" y="231.30" font-size="10" text-anchor="end" fill="#222">1.2</text><line x1="24.50" y1="398.5" x2="24.50" y2="402.00" stroke="#222" stroke-width="1.1"/><text x="24.60" y="416.50" font-size="10" text-anchor="middle" fill="#222">0</text><line x1="89.10" y1="398.5" x2="89.10" y2="402.00" stroke="#222" stroke-width="1.1"/><text x="89.20" y="416.50" font-size="10" text-anchor="middle" fill="#222">100</text><line x1="153.20" y1="398.5" x2="153.20" y2="402.00" stroke="#222" stroke-width="1.1"/><text x="153.30" y="416.50" font-size="10" text-anchor="middle" fill="#222">200</text><line x1="216.30" y1="398.5" x2="216.30" y2="402.00" stroke="#222" stroke-width="1.1"/><text x="216.40" y="416.50" font-size="10" text-anchor="middle" fill="#222">300</text><line x1="280.80" y1="398.5" x2="280.80" y2="402.00" stroke="#222" stroke-width="1.1"/><text x="280.90" y="416.50" font-size="10" text-anchor="middle" fill="#222">400</text><text x="135.40" y="431.60" font-size="10.6" font-weight="bold" textLength="23.30" lengthAdjust="spacingAndGlyphs" fill="#000">ERK2</text><polyline points="24.50,256.17 25.00,260.55 25.50,264.16 26.00,266.60 26.50,268.61 27.00,270.34 27.50,271.88 28.00,273.32 28.50,274.76 29.00,276.28 29.50,277.75 30.00,279.15 30.50,280.51 31.00,281.86 31.50,283.20 32.00,284.58 32.50,286.02 33.00,287.52 33.50,289.11 34.00,290.76 34.50,292.45 35.00,294.17 35.50,295.89 36.00,297.61 36.50,299.30 37.00,300.95 37.50,302.54 38.00,304.15 38.50,305.90 39.00,307.68 39.50,309.39 40.00,310.91 40.50,312.13 41.00,312.95 41.50,313.38 42.00,313.72 42.50,313.93 43.00,313.92 43.50,313.71 44.00,313.37 44.50,312.97 45.00,312.39 45.50,311.57 46.00,310.54 46.50,309.31 47.00,307.91 47.50,306.35 48.00,304.67 48.50,302.86 49.00,300.97 49.50,299.00 50.00,296.97 50.50,294.91 51.00,292.84 51.50,290.78 52.00,288.74 52.50,286.75 53.00,284.82 53.50,282.99 54.00,281.25 54.50,279.65 55.00,278.19 55.50,276.90 56.00,275.80 56.50,274.90 57.00,274.24 57.50,273.82 58.00,273.53 58.50,273.27 59.00,273.08 59.50,272.97 60.00,272.98 60.50,273.11 61.00,273.32 61.50,273.59 62.00,273.88 62.50,274.35 63.00,275.05 63.50,275.97 64.00,277.09 64.50,278.40 65.00,279.86 65.50,281.46 66.00,283.18 66.50,285.01 67.00,286.92 67.50,288.89 68.00,290.90 68.50,292.95 69.00,294.99 69.50,297.02 70.00,299.02 70.50,300.97 71.00,302.84 71.50,304.63 72.00,306.30 72.50,307.84 73.00,309.23 73.50,310.46 74.00,311.50 74.50,312.32 75.00,312.93 75.50,313.33 76.00,313.68 76.50,313.91 77.00,313.93 77.50,313.74 78.00,313.41 78.50,313.02 79.00,312.46 79.50,311.66 80.00,310.64 80.50,309.42 81.00,308.03 81.50,306.48 82.00,304.80 82.50,302.99 83.00,301.09 83.50,299.12 84.00,297.09 84.50,295.03 85.00,292.95 85.50,290.87 86.00,288.82 86.50,286.82 87.00,284.89 87.50,283.04 88.00,281.30 88.50,279.68 89.00,278.22 89.50,276.92 90.00,275.81 90.50,274.91 91.00,274.24 91.50,273.82 92.00,273.53 92.50,273.27 93.00,273.08 93.50,272.97 94.00,272.98 94.50,273.11 95.00,273.32 95.50,273.59 96.00,273.88 96.50,274.35 97.00,275.08 97.50,276.03 98.00,277.18 98.50,278.53 99.00,280.04 99.50,281.69 100.00,283.47 100.50,285.35 101.00,287.31 101.50,289.34 102.00,291.41 102.50,293.51 103.00,295.60 103.50,297.68 104.00,299.71 104.50,301.69 105.00,303.58 105.50,305.38 106.00,307.05 106.50,308.58 107.00,309.95 107.50,311.13 108.00,312.11 108.50,312.87 109.00,313.38 109.50,313.76 110.00,314.08 110.50,314.23 111.00,314.16 111.50,313.90 112.00,313.54 112.50,313.11 113.00,312.43 113.50,311.52 114.00,310.39 114.50,309.06 115.00,307.56 115.50,305.90 116.00,304.11 116.50,302.21 117.00,300.22 117.50,298.17 118.00,296.07 118.50,293.94 119.00,291.81 119.50,289.70 120.00,287.63 120.50,285.62 121.00,283.69 121.50,281.87 122.00,280.18 122.50,278.63 123.00,277.26 123.50,276.07 124.00,275.10 124.50,274.36 125.00,273.88 125.50,273.59 126.00,273.32 126.50,273.11 127.00,272.98 127.50,272.97 128.00,273.08 128.50,273.27 129.00,273.53 129.50,273.82 130.00,274.23 130.50,274.89 131.00,275.77 131.50,276.86 132.00,278.12 132.50,279.55 133.00,281.13 133.50,282.83 134.00,284.64 134.50,286.53 135.00,288.49 135.50,290.50 136.00,292.54 136.50,294.58 137.00,296.62 137.50,298.63 138.00,300.58 138.50,302.48 139.00,304.28 139.50,305.97 140.00,307.54 140.50,308.97 141.00,310.23 141.50,311.30 142.00,312.18 142.50,312.83 143.00,313.25 143.50,313.62 144.00,313.88 144.50,313.95 145.00,313.79 145.50,313.48 146.00,313.10 146.50,312.57 147.00,311.76 147.50,310.69 148.00,309.40 148.50,307.91 149.00,306.24 149.50,304.42 150.00,302.46 150.50,300.40 151.00,298.27 151.50,296.07 152.00,293.85 152.50,291.62 153.00,289.40 153.50,287.24 154.00,285.13 154.50,283.13 155.00,281.23 155.50,279.48 156.00,277.90 156.50,276.51 157.00,275.33 157.50,274.39 158.00,273.72 158.50,273.33 159.00,273.05 159.50,272.80 160.00,272.62 160.50,272.54 161.00,272.58 161.50,272.72 162.00,272.95 162.50,273.22 163.00,273.52 163.50,274.01 164.00,274.70 164.50,275.58 165.00,276.64 165.50,277.85 166.00,279.21 166.50,280.70 167.00,282.29 167.50,283.98 168.00,285.75 168.50,287.58 169.00,289.46 169.50,291.38 170.00,293.30 170.50,295.23 171.00,297.15 171.50,299.03 172.00,300.86 172.50,302.63 173.00,304.32 173.50,305.92 174.00,307.40 174.50,308.76 175.00,309.98 175.50,311.03 176.00,311.92 176.50,312.61 177.00,313.10 177.50,313.48 178.00,313.79 178.50,313.95 179.00,313.88 179.50,313.62 180.00,313.26 180.50,312.81 181.00,312.11 181.50,311.15 182.00,309.95 182.50,308.53 183.00,306.93 183.50,305.16 184.00,303.26 184.50,301.24 185.00,299.13 185.50,296.95 186.00,294.74 186.50,292.51 187.00,290.29 187.50,288.10 188.00,285.97 188.50,283.92 189.00,281.98 189.50,280.17 190.00,278.51 190.50,277.04 191.00,275.77 191.50,274.74 192.00,273.96 192.50,273.45 193.00,273.16 193.50,272.89 194.00,272.68 194.50,272.56 195.00,272.55 195.50,272.65 196.00,272.85 196.50,273.10 197.00,273.39 197.50,273.80 198.00,274.45 198.50,275.31 199.00,276.36 199.50,277.60 200.00,278.99 200.50,280.53 201.00,282.19 201.50,283.96 202.00,285.81 202.50,287.74 203.00,289.71 203.50,291.72 204.00,293.74 204.50,295.76 205.00,297.75 205.50,299.71 206.00,301.60 206.50,303.42 207.00,305.14 207.50,306.76 208.00,308.23 208.50,309.56 209.00,310.73 209.50,311.70 210.00,312.47 210.50,313.02 211.00,313.41 211.50,313.74 212.00,313.93 212.50,313.91 213.00,313.68 213.50,313.33 214.00,312.92 214.50,312.30 215.00,311.42 215.50,310.31 216.00,309.01 216.50,307.51 217.00,305.86 217.50,304.07 218.00,302.16 218.50,300.16 219.00,298.08 219.50,295.96 220.00,293.81 220.50,291.65 221.00,289.51 221.50,287.41 222.00,285.37 222.50,283.42 223.00,281.57 223.50,279.85 224.00,278.28 224.50,276.88 225.00,275.68 225.50,274.69 226.00,273.94 226.50,273.45 227.00,273.16 227.50,272.89 228.00,272.68 228.50,272.56 229.00,272.55 229.50,272.65 230.00,272.85 230.50,273.10 231.00,273.39 231.50,273.81 232.00,274.49 232.50,275.40 233.00,276.52 233.50,277.83 234.00,279.31 234.50,280.95 235.00,282.71 235.50,284.58 236.00,286.53 236.50,288.56 237.00,290.63 237.50,292.73 238.00,294.83 238.50,296.92 239.00,298.98 239.50,300.97 240.00,302.89 240.50,304.72 241.00,306.42 241.50,307.99 242.00,309.39 242.50,310.62 243.00,311.65 243.50,312.45 244.00,313.02 244.50,313.41 245.00,313.74 245.50,313.93 246.00,313.91 246.50,313.68 247.00,313.33 247.50,312.94 248.00,312.48 248.50,311.93 249.00,311.29 249.50,310.57 250.00,309.76 250.50,308.86 251.00,307.88 251.50,306.81 252.00,305.66 252.50,304.42 253.00,303.10 253.50,301.68 254.00,300.19 254.50,298.61 255.00,296.94 255.50,295.19 256.00,293.35 256.50,291.43 257.00,289.43 257.50,287.34 258.00,285.17 258.50,282.91 259.00,280.57 259.50,278.15 260.00,275.64 260.30,274.10" fill="none" stroke="#F4D060" stroke-width="1.3" stroke-linejoin="round" transform="translate(0.6,0)"/><polyline points="24.50,265.42 25.00,266.80 25.50,268.14 26.00,269.42 26.50,270.64 27.00,271.76 27.50,272.81 28.00,273.86 28.50,274.96 29.00,276.16 29.50,277.43 30.00,278.76 30.50,280.14 31.00,281.56 31.50,283.02 32.00,284.50 32.50,286.00 33.00,287.52 33.50,289.11 34.00,290.76 34.50,292.45 35.00,294.17 35.50,295.89 36.00,297.61 36.50,299.30 37.00,300.95 37.50,302.54 38.00,304.15 38.50,305.90 39.00,307.68 39.50,309.39 40.00,310.91 40.50,312.13 41.00,312.95 41.50,313.38 42.00,313.72 42.50,313.93 43.00,313.92 43.50,313.71 44.00,313.37 44.50,312.97 45.00,312.39 45.50,311.57 46.00,310.54 46.50,309.31 47.00,307.91 47.50,306.35 48.00,304.67 48.50,302.86 49.00,300.97 49.50,299.00 50.00,296.97 50.50,294.91 51.00,292.84 51.50,290.78 52.00,288.74 52.50,286.75 53.00,284.82 53.50,282.99 54.00,281.25 54.50,279.65 55.00,278.19 55.50,276.90 56.00,275.80 56.50,274.90 57.00,274.24 57.50,273.82 58.00,273.53 58.50,273.27 59.00,273.08 59.50,272.97 60.00,272.98 60.50,273.11 61.00,273.32 61.50,273.59 62.00,273.88 62.50,274.35 63.00,275.05 63.50,275.97 64.00,277.09 64.50,278.40 65.00,279.86 65.50,281.46 66.00,283.18 66.50,285.01 67.00,286.92 67.50,288.89 68.00,290.90 68.50,292.95 69.00,294.99 69.50,297.02 70.00,299.02 70.50,300.97 71.00,302.84 71.50,304.63 72.00,306.30 72.50,307.84 73.00,309.23 73.50,310.46 74.00,311.50 74.50,312.32 75.00,312.93 75.50,313.33 76.00,313.68 76.50,313.91 77.00,313.93 77.50,313.74 78.00,313.41 78.50,313.02 79.00,312.46 79.50,311.66 80.00,310.64 80.50,309.42 81.00,308.03 81.50,306.48 82.00,304.80 82.50,302.99 83.00,301.09 83.50,299.12 84.00,297.09 84.50,295.03 85.00,292.95 85.50,290.87 86.00,288.82 86.50,286.82 87.00,284.89 87.50,283.04 88.00,281.30 88.50,279.68 89.00,278.22 89.50,276.92 90.00,275.81 90.50,274.91 91.00,274.24 91.50,273.82 92.00,273.53 92.50,273.27 93.00,273.08 93.50,272.97 94.00,272.98 94.50,273.11 95.00,273.32 95.50,273.59 96.00,273.88 96.50,274.35 97.00,275.08 97.50,276.03 98.00,277.18 98.50,278.53 99.00,280.04 99.50,281.69 100.00,283.47 100.50,285.35 101.00,287.31 101.50,289.34 102.00,291.41 102.50,293.51 103.00,295.60 103.50,297.68 104.00,299.71 104.50,301.69 105.00,303.58 105.50,305.38 106.00,307.05 106.50,308.58 107.00,309.95 107.50,311.13 108.00,312.11 108.50,312.87 109.00,313.38 109.50,313.76 110.00,314.08 110.50,314.23 111.00,314.16 111.50,313.90 112.00,313.54 112.50,313.11 113.00,312.43 113.50,311.52 114.00,310.39 114.50,309.06 115.00,307.56 115.50,305.90 116.00,304.11 116.50,302.21 117.00,300.22 117.50,298.17 118.00,296.07 118.50,293.94 119.00,291.81 119.50,289.70 120.00,287.63 120.50,285.62 121.00,283.69 121.50,281.87 122.00,280.18 122.50,278.63 123.00,277.26 123.50,276.07 124.00,275.10 124.50,274.36 125.00,273.88 125.50,273.59 126.00,273.32 126.50,273.11 127.00,272.98 127.50,272.97 128.00,273.08 128.50,273.27 129.00,273.53 129.50,273.82 130.00,274.23 130.50,274.89 131.00,275.77 131.50,276.86 132.00,278.12 132.50,279.55 133.00,281.13 133.50,282.83 134.00,284.64 134.50,286.53 135.00,288.49 135.50,290.50 136.00,292.54 136.50,294.58 137.00,296.62 137.50,298.63 138.00,300.58 138.50,302.48 139.00,304.28 139.50,305.97 140.00,307.54 140.50,308.97 141.00,310.23 141.50,311.30 142.00,312.18 142.50,312.83 143.00,313.25 143.50,313.62 144.00,313.88 144.50,313.95 145.00,313.79 145.50,313.48 146.00,313.10 146.50,312.57 147.00,311.76 147.50,310.69 148.00,309.40 148.50,307.91 149.00,306.24 149.50,304.42 150.00,302.46 150.50,300.40 151.00,298.27 151.50,296.07 152.00,293.85 152.50,291.62 153.00,289.40 153.50,287.24 154.00,285.13 154.50,283.13 155.00,281.23 155.50,279.48 156.00,277.90 156.50,276.51 157.00,275.33 157.50,274.39 158.00,273.72 158.50,273.33 159.00,273.05 159.50,272.80 160.00,272.62 160.50,272.54 161.00,272.58 161.50,272.72 162.00,272.95 162.50,273.22 163.00,273.52 163.50,274.01 164.00,274.70 164.50,275.58 165.00,276.64 165.50,277.85 166.00,279.21 166.50,280.70 167.00,282.29 167.50,283.98 168.00,285.75 168.50,287.58 169.00,289.46 169.50,291.38 170.00,293.30 170.50,295.23 171.00,297.15 171.50,299.03 172.00,300.86 172.50,302.63 173.00,304.32 173.50,305.92 174.00,307.40 174.50,308.76 175.00,309.98 175.50,311.03 176.00,311.92 176.50,312.61 177.00,313.10 177.50,313.48 178.00,313.79 178.50,313.95 179.00,313.88 179.50,313.62 180.00,313.26 180.50,312.81 181.00,312.11 181.50,311.15 182.00,309.95 182.50,308.53 183.00,306.93 183.50,305.16 184.00,303.26 184.50,301.24 185.00,299.13 185.50,296.95 186.00,294.74 186.50,292.51 187.00,290.29 187.50,288.10 188.00,285.97 188.50,283.92 189.00,281.98 189.50,280.17 190.00,278.51 190.50,277.04 191.00,275.77 191.50,274.74 192.00,273.96 192.50,273.45 193.00,273.16 193.50,272.89 194.00,272.68 194.50,272.56 195.00,272.55 195.50,272.65 196.00,272.85 196.50,273.10 197.00,273.39 197.50,273.80 198.00,274.45 198.50,275.31 199.00,276.36 199.50,277.60 200.00,278.99 200.50,280.53 201.00,282.19 201.50,283.96 202.00,285.81 202.50,287.74 203.00,289.71 203.50,291.72 204.00,293.74 204.50,295.76 205.00,297.75 205.50,299.71 206.00,301.60 206.50,303.42 207.00,305.14 207.50,306.76 208.00,308.23 208.50,309.56 209.00,310.73 209.50,311.70 210.00,312.47 210.50,313.02 211.00,313.41 211.50,313.74 212.00,313.93 212.50,313.91 213.00,313.68 213.50,313.33 214.00,312.92 214.50,312.30 215.00,311.42 215.50,310.31 216.00,309.01 216.50,307.51 217.00,305.86 217.50,304.07 218.00,302.16 218.50,300.16 219.00,298.08 219.50,295.96 220.00,293.81 220.50,291.65 221.00,289.51 221.50,287.41 222.00,285.37 222.50,283.42 223.00,281.57 223.50,279.85 224.00,278.28 224.50,276.88 225.00,275.68 225.50,274.69 226.00,273.94 226.50,273.45 227.00,273.16 227.50,272.89 228.00,272.68 228.50,272.56 229.00,272.55 229.50,272.65 230.00,272.85 230.50,273.10 231.00,273.39 231.50,273.81 232.00,274.49 232.50,275.40 233.00,276.52 233.50,277.83 234.00,279.31 234.50,280.95 235.00,282.71 235.50,284.58 236.00,286.53 236.50,288.56 237.00,290.63 237.50,292.73 238.00,294.83 238.50,296.92 239.00,298.98 239.50,300.97 240.00,302.89 240.50,304.72 241.00,306.42 241.50,307.99 242.00,309.39 242.50,310.62 243.00,311.65 243.50,312.45 244.00,313.02 244.50,313.41 245.00,313.74 245.50,313.93 246.00,313.91 246.50,313.68 247.00,313.33 247.50,312.94 248.00,312.48 248.50,311.93 249.00,311.29 249.50,310.57 250.00,309.76 250.50,308.86 251.00,307.88 251.50,306.81 252.00,305.66 252.50,304.42 253.00,303.10 253.50,301.68 254.00,300.19 254.50,298.61 255.00,296.94 255.50,295.19 256.00,293.35 256.50,291.43 257.00,289.43 257.50,287.34 258.00,285.17 258.50,282.91 259.00,280.57 259.50,278.15 260.00,275.64 260.30,274.10" fill="none" stroke="#D8664A" stroke-width="1.3" stroke-linejoin="round" opacity="0.9"/></g>
<g><rect x="334.0" y="226.9" width="256.00" height="170.80" fill="#C0C0C0"/><line x1="334.0" y1="368.70" x2="590.0" y2="368.70" stroke="#3a3a3a" stroke-width="1.4"/><line x1="334.0" y1="340.50" x2="590.0" y2="340.50" stroke="#3a3a3a" stroke-width="1.4"/><line x1="334.0" y1="311.50" x2="590.0" y2="311.50" stroke="#3a3a3a" stroke-width="1.4"/><line x1="334.0" y1="284.00" x2="590.0" y2="284.00" stroke="#3a3a3a" stroke-width="1.4"/><line x1="334.0" y1="255.20" x2="590.0" y2="255.20" stroke="#3a3a3a" stroke-width="1.4"/><polyline points="334.0,226.9 590.0,226.9 590.0,397.7" fill="none" stroke="#959595" stroke-width="1.1"/><rect x="516.0" y="362.8" width="73.50" height="34.90" fill="#fff"/><rect x="517.3" y="365.8" width="70.20" height="30.90" fill="#fff" stroke="#222" stroke-width="1.1"/><line x1="520.6" y1="374.4" x2="538.3" y2="374.4" stroke="#E8E8B0" stroke-width="1.7"/><line x1="520.6" y1="389.5" x2="538.3" y2="389.5" stroke="#D29A90" stroke-width="1.7"/><text x="541.3" y="378.2" font-size="10.2" fill="#222">target</text><text x="541.3" y="393.7" font-size="10.2" fill="#222">estimated</text><line x1="334.0" y1="226.9" x2="334.0" y2="397.7" stroke="#2a2a2a" stroke-width="1.3"/><line x1="334.0" y1="397.7" x2="590.0" y2="397.7" stroke="#2a2a2a" stroke-width="1.3"/><line x1="330.50" y1="397.70" x2="334.0" y2="397.70" stroke="#222" stroke-width="1.1"/><text x="326.3" y="401.30" font-size="10" text-anchor="end" fill="#222">0</text><line x1="330.50" y1="368.70" x2="334.0" y2="368.70" stroke="#222" stroke-width="1.1"/><text x="326.3" y="372.30" font-size="10" text-anchor="end" fill="#222">0.2</text><line x1="330.50" y1="340.50" x2="334.0" y2="340.50" stroke="#222" stroke-width="1.1"/><text x="326.3" y="344.10" font-size="10" text-anchor="end" fill="#222">0.4</text><line x1="330.50" y1="311.50" x2="334.0" y2="311.50" stroke="#222" stroke-width="1.1"/><text x="326.3" y="315.10" font-size="10" text-anchor="end" fill="#222">0.6</text><line x1="330.50" y1="284.00" x2="334.0" y2="284.00" stroke="#222" stroke-width="1.1"/><text x="326.3" y="287.60" font-size="10" text-anchor="end" fill="#222">0.8</text><line x1="330.50" y1="255.20" x2="334.0" y2="255.20" stroke="#222" stroke-width="1.1"/><text x="326.3" y="258.80" font-size="10" text-anchor="end" fill="#222">1</text><line x1="330.50" y1="226.90" x2="334.0" y2="226.90" stroke="#222" stroke-width="1.1"/><text x="326.3" y="230.50" font-size="10" text-anchor="end" fill="#222">1.2</text><line x1="334.00" y1="397.7" x2="334.00" y2="401.20" stroke="#222" stroke-width="1.1"/><text x="334.10" y="416.30" font-size="10" text-anchor="middle" fill="#222">0</text><line x1="398.10" y1="397.7" x2="398.10" y2="401.20" stroke="#222" stroke-width="1.1"/><text x="398.20" y="416.30" font-size="10" text-anchor="middle" fill="#222">100</text><line x1="462.30" y1="397.7" x2="462.30" y2="401.20" stroke="#222" stroke-width="1.1"/><text x="462.40" y="416.30" font-size="10" text-anchor="middle" fill="#222">200</text><line x1="525.30" y1="397.7" x2="525.30" y2="401.20" stroke="#222" stroke-width="1.1"/><text x="525.40" y="416.30" font-size="10" text-anchor="middle" fill="#222">300</text><line x1="589.80" y1="397.7" x2="589.80" y2="401.20" stroke="#222" stroke-width="1.1"/><text x="589.90" y="416.30" font-size="10" text-anchor="middle" fill="#222">400</text><text x="461.15" y="433.00" font-size="10.6" font-weight="bold" textLength="24.05" lengthAdjust="spacingAndGlyphs" fill="#000">RegA</text><polyline points="334.00,256.79 334.50,259.83 335.00,262.72 335.50,265.48 336.00,268.09 336.50,270.56 337.00,272.89 337.50,275.09 338.00,277.14 338.50,279.05 339.00,280.83 339.50,282.47 340.00,283.97 340.50,285.33 341.00,286.56 341.50,287.65 342.00,288.61 342.50,289.43 343.00,290.12 343.50,290.71 344.00,291.08 344.50,290.90 345.00,290.35 345.50,289.74 346.00,288.97 346.50,288.04 347.00,286.99 347.50,285.83 348.00,284.60 348.50,283.30 349.00,281.98 349.50,280.65 350.00,279.34 350.50,278.07 351.00,276.87 351.50,275.75 352.00,274.75 352.50,273.88 353.00,273.18 353.50,272.66 354.00,272.33 354.50,272.06 355.00,271.82 355.50,271.65 356.00,271.59 356.50,271.65 357.00,271.82 357.50,272.06 358.00,272.33 358.50,272.66 359.00,273.17 359.50,273.88 360.00,274.77 360.50,275.81 361.00,276.99 361.50,278.30 362.00,279.72 362.50,281.23 363.00,282.82 363.50,284.47 364.00,286.16 364.50,287.88 365.00,289.61 365.50,291.34 366.00,293.04 366.50,294.70 367.00,296.31 367.50,297.85 368.00,299.30 368.50,300.65 369.00,301.88 369.50,302.97 370.00,303.90 370.50,304.67 371.00,305.27 371.50,305.78 372.00,305.84 372.50,305.39 373.00,304.81 373.50,304.15 374.00,303.36 374.50,302.47 375.00,301.47 375.50,300.38 376.00,299.21 376.50,297.96 377.00,296.66 377.50,295.30 378.00,293.90 378.50,292.46 379.00,291.01 379.50,289.54 380.00,288.07 380.50,286.61 381.00,285.16 381.50,283.74 382.00,282.36 382.50,281.02 383.00,279.74 383.50,278.53 384.00,277.39 384.50,276.34 385.00,275.38 385.50,274.53 386.00,273.80 386.50,273.19 387.00,272.72 387.50,272.39 388.00,272.11 388.50,271.86 389.00,271.68 389.50,271.60 390.00,271.63 390.50,271.78 391.00,272.00 391.50,272.27 392.00,272.58 392.50,273.08 393.00,273.80 393.50,274.72 394.00,275.82 394.50,277.08 395.00,278.48 395.50,280.00 396.00,281.62 396.50,283.32 397.00,285.08 397.50,286.89 398.00,288.72 398.50,290.55 399.00,292.37 399.50,294.15 400.00,295.88 400.50,297.53 401.00,299.09 401.50,300.54 402.00,301.85 402.50,303.02 403.00,304.01 403.50,304.80 404.00,305.42 404.50,305.92 405.00,305.98 405.50,305.53 406.00,304.96 406.50,304.31 407.00,303.55 407.50,302.68 408.00,301.73 408.50,300.69 409.00,299.57 409.50,298.39 410.00,297.15 410.50,295.86 411.00,294.52 411.50,293.16 412.00,291.77 412.50,290.36 413.00,288.95 413.50,287.54 414.00,286.13 414.50,284.75 415.00,283.40 415.50,282.08 416.00,280.81 416.50,279.59 417.00,278.43 417.50,277.34 418.00,276.34 418.50,275.42 419.00,274.60 419.50,273.88 420.00,273.28 420.50,272.80 421.00,272.45 421.50,272.17 422.00,271.91 422.50,271.71 423.00,271.60 423.50,271.62 424.00,271.74 424.50,271.95 425.00,272.22 425.50,272.51 426.00,272.94 426.50,273.56 427.00,274.35 427.50,275.30 428.00,276.40 428.50,277.63 429.00,278.97 429.50,280.41 430.00,281.93 430.50,283.52 431.00,285.17 431.50,286.85 432.00,288.55 432.50,290.27 433.00,291.97 433.50,293.65 434.00,295.30 434.50,296.89 435.00,298.41 435.50,299.85 436.00,301.19 436.50,302.41 437.00,303.50 437.50,304.46 438.00,305.25 438.50,305.87 439.00,306.41 439.50,306.59 440.00,306.21 440.50,305.64 441.00,304.98 441.50,304.17 442.00,303.23 442.50,302.16 443.00,300.99 443.50,299.73 444.00,298.37 444.50,296.95 445.00,295.46 445.50,293.93 446.00,292.36 446.50,290.76 447.00,289.16 447.50,287.55 448.00,285.95 448.50,284.38 449.00,282.85 449.50,281.36 450.00,279.94 450.50,278.58 451.00,277.32 451.50,276.14 452.00,275.08 452.50,274.14 453.00,273.33 453.50,272.67 454.00,272.16 454.50,271.82 455.00,271.54 455.50,271.29 456.00,271.11 456.50,271.03 457.00,271.06 457.50,271.21 458.00,271.44 458.50,271.71 459.00,272.01 459.50,272.47 460.00,273.11 460.50,273.91 461.00,274.87 461.50,275.96 462.00,277.18 462.50,278.51 463.00,279.93 463.50,281.43 464.00,283.00 464.50,284.63 465.00,286.29 465.50,287.97 466.00,289.67 466.50,291.36 467.00,293.03 467.50,294.67 468.00,296.27 468.50,297.80 469.00,299.26 469.50,300.63 470.00,301.90 470.50,303.05 471.00,304.07 471.50,304.94 472.00,305.66 472.50,306.24 473.00,306.70 473.50,306.63 474.00,306.13 474.50,305.53 475.00,304.81 475.50,303.96 476.00,302.97 476.50,301.87 477.00,300.66 477.50,299.37 478.00,297.99 478.50,296.55 479.00,295.05 479.50,293.51 480.00,291.93 480.50,290.34 481.00,288.74 481.50,287.14 482.00,285.55 482.50,284.00 483.00,282.48 483.50,281.01 484.00,279.61 484.50,278.28 485.00,277.04 485.50,275.90 486.00,274.87 486.50,273.96 487.00,273.18 487.50,272.55 488.00,272.08 488.50,271.76 489.00,271.49 489.50,271.25 490.00,271.09 490.50,271.02 491.00,271.08 491.50,271.25 492.00,271.49 492.50,271.76 493.00,272.09 493.50,272.62 494.00,273.36 494.50,274.28 495.00,275.36 495.50,276.60 496.00,277.97 496.50,279.46 497.00,281.04 497.50,282.71 498.00,284.44 498.50,286.21 499.00,288.02 499.50,289.83 500.00,291.64 500.50,293.42 501.00,295.16 501.50,296.85 502.00,298.45 502.50,299.97 503.00,301.37 503.50,302.64 504.00,303.77 504.50,304.74 505.00,305.52 505.50,306.13 506.00,306.64 506.50,306.70 507.00,306.24 507.50,305.66 508.00,304.99 508.50,304.20 509.00,303.29 509.50,302.27 510.00,301.16 510.50,299.96 511.00,298.68 511.50,297.35 512.00,295.95 512.50,294.51 513.00,293.04 513.50,291.54 514.00,290.03 514.50,288.51 515.00,286.99 515.50,285.49 516.00,284.02 516.50,282.58 517.00,281.18 517.50,279.84 518.00,278.57 518.50,277.37 519.00,276.26 519.50,275.24 520.00,274.33 520.50,273.53 521.00,272.86 521.50,272.33 522.00,271.94 522.50,271.65 523.00,271.39 523.50,271.18 524.00,271.05 524.50,271.03 525.00,271.14 525.50,271.34 526.00,271.59 526.50,271.88 527.00,272.27 527.50,272.85 528.00,273.61 528.50,274.53 529.00,275.60 529.50,276.80 530.00,278.12 530.50,279.55 531.00,281.06 531.50,282.64 532.00,284.28 532.50,285.97 533.00,287.68 533.50,289.40 534.00,291.12 534.50,292.82 535.00,294.48 535.50,296.10 536.00,297.66 536.50,299.13 537.00,300.52 537.50,301.79 538.00,302.94 538.50,303.95 539.00,304.81 539.50,305.49 540.00,306.07 540.50,306.45 541.00,306.27 541.50,305.72 542.00,305.12 542.50,304.37 543.00,303.49 543.50,302.49 544.00,301.37 544.50,300.16 545.00,298.86 545.50,297.48 546.00,296.04 546.50,294.54 547.00,293.01 547.50,291.44 548.00,289.86 548.50,288.27 549.00,286.69 549.50,285.12 550.00,283.59 550.50,282.09 551.00,280.65 551.50,279.28 552.00,277.98 552.50,276.77 553.00,275.65 553.50,274.65 554.00,273.78 554.50,273.04 555.00,272.44 555.50,272.00 556.00,271.71 556.50,271.44 557.00,271.21 557.50,271.06 558.00,271.03 558.50,271.11 559.00,271.29 559.50,271.53 560.00,271.82 560.50,272.16 561.00,272.63 561.50,273.23 562.00,273.96 562.50,274.82 563.00,275.80 563.50,276.90 564.00,278.13 564.50,279.47 565.00,280.93 565.50,282.49 566.00,284.17 566.50,285.96 567.00,287.85 567.50,289.84 568.00,291.94 568.50,294.13 569.00,296.41 569.20,297.36" fill="none" stroke="#F4D060" stroke-width="1.3" stroke-linejoin="round" transform="translate(0.6,0)"/><polyline points="334.00,259.64 334.50,262.38 335.00,265.00 335.50,267.50 336.00,269.86 336.50,272.11 337.00,274.22 337.50,276.21 338.00,278.08 338.50,279.83 339.00,281.45 339.50,282.95 340.00,284.34 340.50,285.60 341.00,286.74 341.50,287.76 342.00,288.66 342.50,289.45 343.00,290.12 343.50,290.71 344.00,291.08 344.50,290.90 345.00,290.35 345.50,289.74 346.00,288.97 346.50,288.04 347.00,286.99 347.50,285.83 348.00,284.60 348.50,283.30 349.00,281.98 349.50,280.65 350.00,279.34 350.50,278.07 351.00,276.87 351.50,275.75 352.00,274.75 352.50,273.88 353.00,273.18 353.50,272.66 354.00,272.33 354.50,272.06 355.00,271.82 355.50,271.65 356.00,271.59 356.50,271.65 357.00,271.82 357.50,272.06 358.00,272.33 358.50,272.66 359.00,273.17 359.50,273.88 360.00,274.77 360.50,275.81 361.00,276.99 361.50,278.30 362.00,279.72 362.50,281.23 363.00,282.82 363.50,284.47 364.00,286.16 364.50,287.88 365.00,289.61 365.50,291.34 366.00,293.04 366.50,294.70 367.00,296.31 367.50,297.85 368.00,299.30 368.50,300.65 369.00,301.88 369.50,302.97 370.00,303.90 370.50,304.67 371.00,305.27 371.50,305.78 372.00,305.84 372.50,305.39 373.00,304.81 373.50,304.15 374.00,303.36 374.50,302.47 375.00,301.47 375.50,300.38 376.00,299.21 376.50,297.96 377.00,296.66 377.50,295.30 378.00,293.90 378.50,292.46 379.00,291.01 379.50,289.54 380.00,288.07 380.50,286.61 381.00,285.16 381.50,283.74 382.00,282.36 382.50,281.02 383.00,279.74 383.50,278.53 384.00,277.39 384.50,276.34 385.00,275.38 385.50,274.53 386.00,273.80 386.50,273.19 387.00,272.72 387.50,272.39 388.00,272.11 388.50,271.86 389.00,271.68 389.50,271.60 390.00,271.63 390.50,271.78 391.00,272.00 391.50,272.27 392.00,272.58 392.50,273.08 393.00,273.80 393.50,274.72 394.00,275.82 394.50,277.08 395.00,278.48 395.50,280.00 396.00,281.62 396.50,283.32 397.00,285.08 397.50,286.89 398.00,288.72 398.50,290.55 399.00,292.37 399.50,294.15 400.00,295.88 400.50,297.53 401.00,299.09 401.50,300.54 402.00,301.85 402.50,303.02 403.00,304.01 403.50,304.80 404.00,305.42 404.50,305.92 405.00,305.98 405.50,305.53 406.00,304.96 406.50,304.31 407.00,303.55 407.50,302.68 408.00,301.73 408.50,300.69 409.00,299.57 409.50,298.39 410.00,297.15 410.50,295.86 411.00,294.52 411.50,293.16 412.00,291.77 412.50,290.36 413.00,288.95 413.50,287.54 414.00,286.13 414.50,284.75 415.00,283.40 415.50,282.08 416.00,280.81 416.50,279.59 417.00,278.43 417.50,277.34 418.00,276.34 418.50,275.42 419.00,274.60 419.50,273.88 420.00,273.28 420.50,272.80 421.00,272.45 421.50,272.17 422.00,271.91 422.50,271.71 423.00,271.60 423.50,271.62 424.00,271.74 424.50,271.95 425.00,272.22 425.50,272.51 426.00,272.94 426.50,273.56 427.00,274.35 427.50,275.30 428.00,276.40 428.50,277.63 429.00,278.97 429.50,280.41 430.00,281.93 430.50,283.52 431.00,285.17 431.50,286.85 432.00,288.55 432.50,290.27 433.00,291.97 433.50,293.65 434.00,295.30 434.50,296.89 435.00,298.41 435.50,299.85 436.00,301.19 436.50,302.41 437.00,303.50 437.50,304.46 438.00,305.25 438.50,305.87 439.00,306.41 439.50,306.59 440.00,306.21 440.50,305.64 441.00,304.98 441.50,304.17 442.00,303.23 442.50,302.16 443.00,300.99 443.50,299.73 444.00,298.37 444.50,296.95 445.00,295.46 445.50,293.93 446.00,292.36 446.50,290.76 447.00,289.16 447.50,287.55 448.00,285.95 448.50,284.38 449.00,282.85 449.50,281.36 450.00,279.94 450.50,278.58 451.00,277.32 451.50,276.14 452.00,275.08 452.50,274.14 453.00,273.33 453.50,272.67 454.00,272.16 454.50,271.82 455.00,271.54 455.50,271.29 456.00,271.11 456.50,271.03 457.00,271.06 457.50,271.21 458.00,271.44 458.50,271.71 459.00,272.01 459.50,272.47 460.00,273.11 460.50,273.91 461.00,274.87 461.50,275.96 462.00,277.18 462.50,278.51 463.00,279.93 463.50,281.43 464.00,283.00 464.50,284.63 465.00,286.29 465.50,287.97 466.00,289.67 466.50,291.36 467.00,293.03 467.50,294.67 468.00,296.27 468.50,297.80 469.00,299.26 469.50,300.63 470.00,301.90 470.50,303.05 471.00,304.07 471.50,304.94 472.00,305.66 472.50,306.24 473.00,306.70 473.50,306.63 474.00,306.13 474.50,305.53 475.00,304.81 475.50,303.96 476.00,302.97 476.50,301.87 477.00,300.66 477.50,299.37 478.00,297.99 478.50,296.55 479.00,295.05 479.50,293.51 480.00,291.93 480.50,290.34 481.00,288.74 481.50,287.14 482.00,285.55 482.50,284.00 483.00,282.48 483.50,281.01 484.00,279.61 484.50,278.28 485.00,277.04 485.50,275.90 486.00,274.87 486.50,273.96 487.00,273.18 487.50,272.55 488.00,272.08 488.50,271.76 489.00,271.49 489.50,271.25 490.00,271.09 490.50,271.02 491.00,271.08 491.50,271.25 492.00,271.49 492.50,271.76 493.00,272.09 493.50,272.62 494.00,273.36 494.50,274.28 495.00,275.36 495.50,276.60 496.00,277.97 496.50,279.46 497.00,281.04 497.50,282.71 498.00,284.44 498.50,286.21 499.00,288.02 499.50,289.83 500.00,291.64 500.50,293.42 501.00,295.16 501.50,296.85 502.00,298.45 502.50,299.97 503.00,301.37 503.50,302.64 504.00,303.77 504.50,304.74 505.00,305.52 505.50,306.13 506.00,306.64 506.50,306.70 507.00,306.24 507.50,305.66 508.00,304.99 508.50,304.20 509.00,303.29 509.50,302.27 510.00,301.16 510.50,299.96 511.00,298.68 511.50,297.35 512.00,295.95 512.50,294.51 513.00,293.04 513.50,291.54 514.00,290.03 514.50,288.51 515.00,286.99 515.50,285.49 516.00,284.02 516.50,282.58 517.00,281.18 517.50,279.84 518.00,278.57 518.50,277.37 519.00,276.26 519.50,275.24 520.00,274.33 520.50,273.53 521.00,272.86 521.50,272.33 522.00,271.94 522.50,271.65 523.00,271.39 523.50,271.18 524.00,271.05 524.50,271.03 525.00,271.14 525.50,271.34 526.00,271.59 526.50,271.88 527.00,272.27 527.50,272.85 528.00,273.61 528.50,274.53 529.00,275.60 529.50,276.80 530.00,278.12 530.50,279.55 531.00,281.06 531.50,282.64 532.00,284.28 532.50,285.97 533.00,287.68 533.50,289.40 534.00,291.12 534.50,292.82 535.00,294.48 535.50,296.10 536.00,297.66 536.50,299.13 537.00,300.52 537.50,301.79 538.00,302.94 538.50,303.95 539.00,304.81 539.50,305.49 540.00,306.07 540.50,306.45 541.00,306.27 541.50,305.72 542.00,305.12 542.50,304.37 543.00,303.49 543.50,302.49 544.00,301.37 544.50,300.16 545.00,298.86 545.50,297.48 546.00,296.04 546.50,294.54 547.00,293.01 547.50,291.44 548.00,289.86 548.50,288.27 549.00,286.69 549.50,285.12 550.00,283.59 550.50,282.09 551.00,280.65 551.50,279.28 552.00,277.98 552.50,276.77 553.00,275.65 553.50,274.65 554.00,273.78 554.50,273.04 555.00,272.44 555.50,272.00 556.00,271.71 556.50,271.44 557.00,271.21 557.50,271.06 558.00,271.03 558.50,271.11 559.00,271.29 559.50,271.53 560.00,271.82 560.50,272.16 561.00,272.63 561.50,273.23 562.00,273.96 562.50,274.82 563.00,275.80 563.50,276.90 564.00,278.13 564.50,279.47 565.00,280.93 565.50,282.49 566.00,284.17 566.50,285.96 567.00,287.85 567.50,289.84 568.00,291.94 568.50,294.13 569.00,296.41 569.20,297.36" fill="none" stroke="#D8664A" stroke-width="1.3" stroke-linejoin="round" opacity="0.9"/></g>
</g></svg></body></html>
